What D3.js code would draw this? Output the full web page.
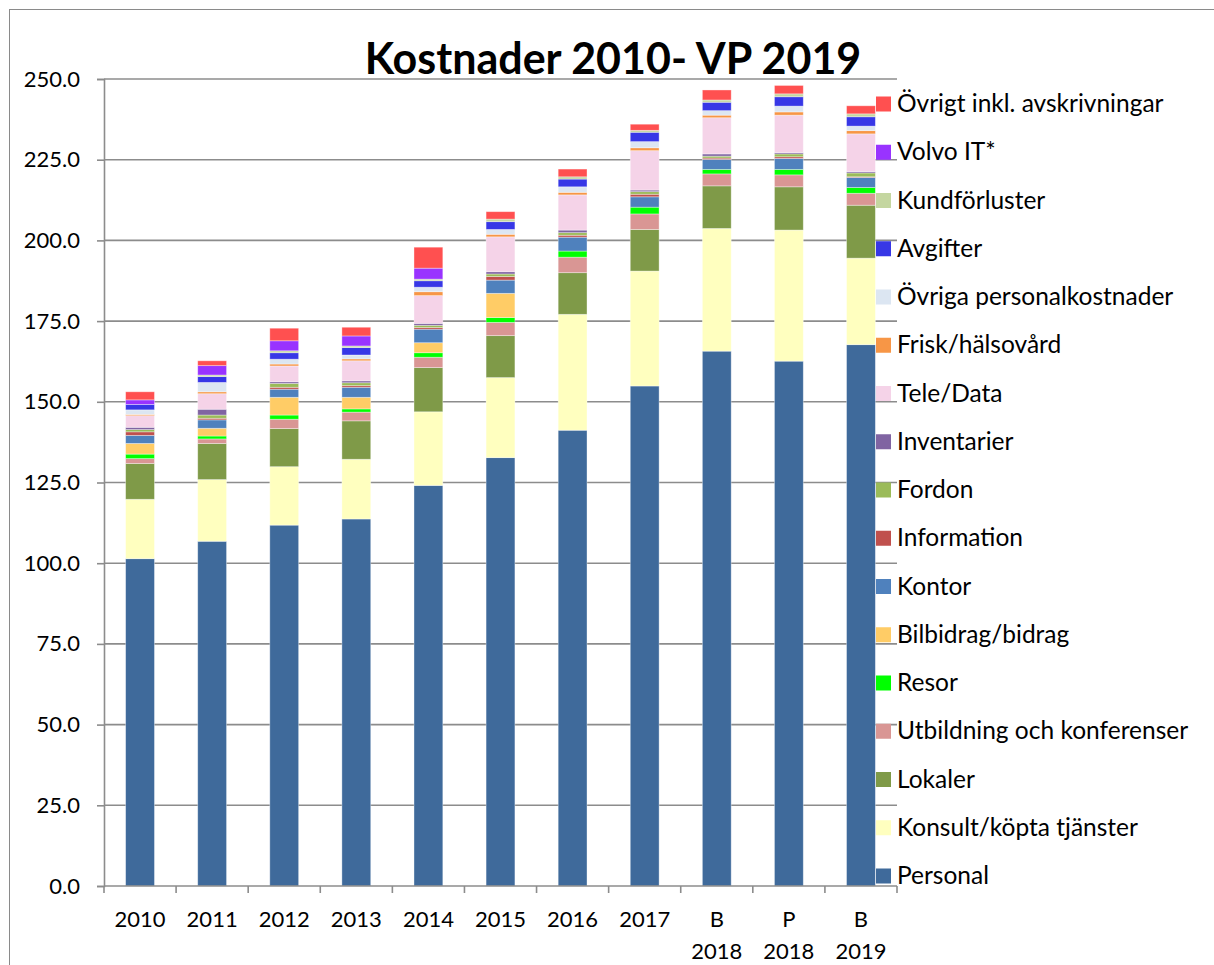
<!DOCTYPE html>
<html>
<head>
<meta charset="utf-8">
<script src="https://cdn.jsdelivr.net/npm/d3@7"></script>
<style>
  html, body { margin: 0; padding: 0; background: #fff; }
  svg { display: block; font-family: Lato, "Open Sans", sans-serif; }
</style>
</head>
<body>
<svg id="chart" width="1214" height="965"></svg>
<script>
// Categories (line breaks in the label become separate lines)
const categories = ["2010", "2011", "2012", "2013", "2014", "2015", "2016", "2017", "B\n2018", "P\n2018", "B\n2019"];

// Cost items per year, MSEK (stacked bottom to top in this order)
const personal      = [101.4, 106.8, 111.8, 113.7, 124.1, 132.7, 141.2, 154.9, 165.7, 162.6, 167.7];
const konsult       = [18.4, 19.1, 18.1, 18.5, 22.8, 24.8, 35.9, 35.6, 38.0, 40.6, 26.8];
const lokaler       = [11.1, 11.2, 11.8, 11.9, 13.7, 13.0, 12.9, 12.9, 13.2, 13.4, 16.4];
const utbildning    = [1.5, 1.4, 2.9, 2.7, 3.2, 4.1, 4.8, 4.8, 3.7, 3.7, 3.7];
const resor         = [1.4, 0.9, 1.3, 1.0, 1.4, 1.5, 1.9, 2.1, 1.4, 1.7, 1.8];
const bilbidrag     = [3.3, 2.4, 5.5, 3.6, 3.1, 7.5, 0, 0, 0, 0, 0];
const kontor        = [2.5, 2.6, 2.5, 3.1, 4.2, 4.1, 4.3, 3.2, 3.1, 3.4, 3.1];
const information   = [1.1, 0.5, 0.6, 0.5, 0.5, 1.1, 0.6, 0.8, 0.4, 0.5, 0.2];
const fordon        = [0.7, 1.0, 1.2, 0.9, 0.7, 0.8, 0.8, 0.8, 0.6, 0.9, 1.2];
const inventarier   = [0.7, 1.8, 0.5, 0.6, 0.6, 0.7, 0.8, 0.5, 0.7, 0.4, 0.4];
const teleData      = [3.6, 4.8, 4.9, 6.2, 8.6, 10.8, 10.9, 12.2, 11.2, 11.6, 11.7];
const friskvard     = [0.4, 0.6, 0.6, 0.6, 1.2, 0.8, 0.8, 0.9, 0.8, 1.0, 1.0];
const ovrigaPers    = [1.4, 2.9, 1.5, 1.2, 1.4, 1.5, 1.7, 1.9, 1.4, 1.8, 1.4];
const avgifter      = [1.7, 1.8, 2.0, 2.3, 2.0, 2.4, 2.4, 2.9, 2.6, 2.9, 2.9];
const kundforluster = [0, 0.5, 0.6, 0.5, 0.5, 0.8, 0.7, 0.6, 0.7, 0.9, 0.9];
const volvoIT       = [1.4, 2.9, 3.1, 3.1, 3.4, 0, 0, 0, 0, 0, 0];
const ovrigt        = [2.5, 1.5, 3.9, 2.7, 6.5, 2.3, 2.4, 1.9, 3.1, 2.6, 2.5];

const seriesNames = [
  "Personal", "Konsult/köpta tjänster", "Lokaler", "Utbildning och konferenser",
  "Resor", "Bilbidrag/bidrag", "Kontor", "Information", "Fordon", "Inventarier",
  "Tele/Data", "Frisk/hälsovård", "Övriga personalkostnader", "Avgifter",
  "Kundförluster", "Volvo IT*", "Övrigt inkl. avskrivningar"
];
const seriesValues = [
  personal, konsult, lokaler, utbildning, resor, bilbidrag, kontor, information,
  fordon, inventarier, teleData, friskvard, ovrigaPers, avgifter, kundforluster,
  volvoIT, ovrigt
];
const seriesColors = [
  "#3f6a9b", "#ffffbf", "#7f9a48", "#d99694", "#00ff00", "#ffcc66", "#4f81bd",
  "#c0504d", "#9bbb59", "#8064a2", "#f5d3e8", "#f79646", "#dce6f2", "#3737e6",
  "#c4d6a0", "#9933ff", "#ff5050"
];

const yTicks = d3.range(0, 251, 25);

// Table for d3.stack: one row per category
const rows = categories.map((c, i) => {
  const r = { category: c };
  seriesNames.forEach((s, k) => { r[s] = seriesValues[k][i]; });
  return r;
});
const stacked = d3.stack().keys(seriesNames)(rows);

const svg = d3.select("#chart");
const plot = { left: 104, right: 897, top: 79, bottom: 886 };

const x = d3.scaleBand()
  .domain(categories)
  .range([plot.left, plot.right])
  .paddingInner(0.6)
  .paddingOuter(0.3);
const step = x.step();

const y = d3.scaleLinear().domain([0, 250]).range([plot.bottom, plot.top]);

// Outer chart frame
svg.append("rect")
  .attr("x", 9.5).attr("y", 9.5)
  .attr("width", 1300).attr("height", 1100)
  .attr("fill", "none").attr("stroke", "#8a8a8a").attr("stroke-width", 1);

// Horizontal gridlines
svg.append("g").selectAll("line")
  .data(yTicks.filter(d => d > 0))
  .join("line")
  .attr("x1", plot.left).attr("x2", plot.right)
  .attr("y1", d => y(d)).attr("y2", d => y(d))
  .attr("stroke", "#8c8c8c").attr("stroke-width", 1.6);

// Stacked bars
svg.append("g").selectAll("g")
  .data(stacked)
  .join("g")
  .attr("fill", (d, i) => seriesColors[i])
  .selectAll("rect")
  .data(d => d.filter(p => p[1] - p[0] > 0).map(p => ({ p, cat: p.data.category })))
  .join("rect")
  .attr("x", d => x(d.cat))
  .attr("width", x.bandwidth())
  .attr("y", d => y(d.p[1]))
  .attr("height", d => y(d.p[0]) - y(d.p[1]))
  .attr("stroke", "#ffffff").attr("stroke-opacity", 0.45).attr("stroke-width", 0.8);

// Y axis
const yAxis = svg.append("g")
  .attr("transform", `translate(${plot.left},0)`)
  .call(d3.axisLeft(y).tickValues(yTicks).tickFormat(d3.format(".1f")).tickSize(7).tickPadding(17));
yAxis.select(".domain").attr("stroke", "#8c8c8c").attr("stroke-width", 1.6);
yAxis.selectAll(".tick line").attr("stroke", "#8c8c8c").attr("stroke-width", 1.6);
yAxis.selectAll(".tick text")
  .attr("fill", "#000").style("font-size", "22px").style("font-family", "Lato");

// X axis line with tick marks between categories
const xAxis = svg.append("g");
xAxis.append("line")
  .attr("x1", plot.left).attr("x2", plot.right)
  .attr("y1", plot.bottom).attr("y2", plot.bottom)
  .attr("stroke", "#8c8c8c").attr("stroke-width", 1.6);
xAxis.selectAll("line.tk")
  .data(d3.range(categories.length + 1))
  .join("line")
  .attr("class", "tk")
  .attr("x1", i => plot.left + i * step).attr("x2", i => plot.left + i * step)
  .attr("y1", plot.bottom).attr("y2", plot.bottom + 7)
  .attr("stroke", "#8c8c8c").attr("stroke-width", 1.6);
xAxis.selectAll("text")
  .data(categories)
  .join("text")
  .attr("x", d => x(d) + x.bandwidth() / 2)
  .attr("y", 927)
  .attr("text-anchor", "middle")
  .style("font-size", "22px")
  .each(function (d) {
    const lines = d.split("\n");
    d3.select(this).selectAll("tspan")
      .data(lines)
      .join("tspan")
      .attr("x", x(d) + x.bandwidth() / 2)
      .attr("dy", (l, j) => j === 0 ? 0 : 32)
      .text(l => l);
  });

// Title
svg.append("text")
  .attr("x", 613).attr("y", 74)
  .attr("text-anchor", "middle")
  .style("font-size", "43px").style("font-weight", "bold")
  .text("Kostnader 2010- VP 2019");

// Legend (top entry is the last stacked series)
const legendItems = seriesNames.map((n, i) => ({ name: n, color: seriesColors[i] })).reverse();
const legendY = d3.scalePoint().domain(legendItems.map(d => d.name)).range([104, 876]);
const legend = svg.append("g").selectAll("g")
  .data(legendItems)
  .join("g")
  .attr("transform", d => `translate(876,${legendY(d.name)})`);
legend.append("rect")
  .attr("x", 0).attr("y", -7.5).attr("width", 15).attr("height", 15)
  .attr("fill", d => d.color);
legend.append("text")
  .attr("x", 21).attr("y", 8)
  .style("font-size", "24.5px")
  .text(d => d.name);
</script>
</body>
</html>
